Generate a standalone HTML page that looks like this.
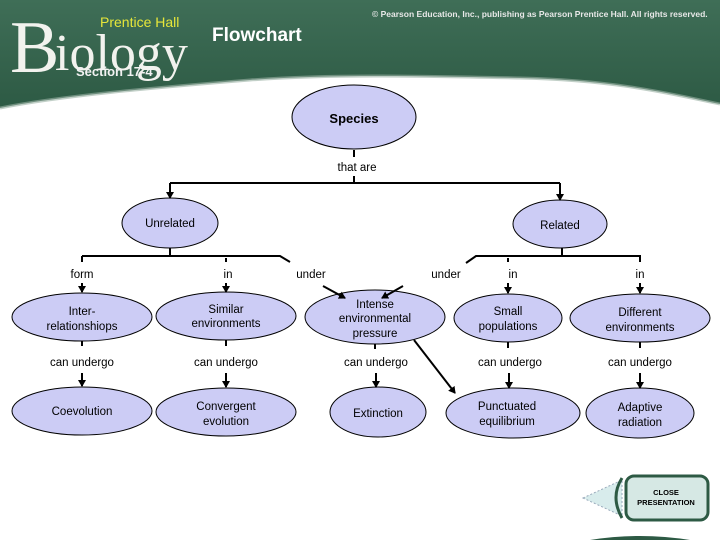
<!DOCTYPE html>
<html><head><meta charset="utf-8"><style>
html,body{margin:0;padding:0;background:#fff;}
svg{display:block;}
</style></head><body>
<svg width="720" height="540" viewBox="0 0 720 540" xmlns="http://www.w3.org/2000/svg" font-family="Liberation Sans, Arial, sans-serif">
<defs>
<linearGradient id="g" x1="0" y1="0" x2="0" y2="1">
<stop offset="0" stop-color="#3f6e57"/><stop offset="1" stop-color="#2d5a44"/>
</linearGradient>
<marker id="a" markerWidth="8" markerHeight="8" refX="6" refY="4" orient="auto" markerUnits="userSpaceOnUse">
<path d="M0,0 L7,4 L0,8 z" fill="#000"/></marker>
</defs>
<path d="M0,0 H720 V104 C680,96 620,80 520,78 C420,76 330,74 250,80 C150,88 60,96 0,108 Z" fill="url(#g)"/>
<path d="M0,108 C60,96 150,88 250,80 C330,74 420,76 520,78 C620,80 680,96 720,104" fill="none" stroke="#9ab0a4" stroke-width="3" opacity="0.6"/>
<text x="10" y="72" style="font-family:'Liberation Serif',serif;font-size:74px" fill="#f2f2ee">B</text>
<text x="55" y="70" style="font-family:'Liberation Serif',serif;font-size:52px" fill="#f2f2ee">iology</text>
<text x="100" y="27" font-size="14" fill="#e6e63a">Prentice Hall</text>
<text x="76" y="76" font-size="13" font-weight="bold" fill="#f2f2f2">Section 17-4</text>
<text x="212" y="41" font-size="19" font-weight="bold" fill="#fff">Flowchart</text>
<text x="372" y="17" font-size="8.5" font-weight="bold" fill="#e8e8e8">© Pearson Education, Inc., publishing as Pearson Prentice Hall. All rights reserved.</text>

<g stroke="#000" stroke-width="1" fill="#ccccf5">
<ellipse cx="354" cy="117" rx="62" ry="32"/>
<ellipse cx="170" cy="223" rx="48" ry="25"/>
<ellipse cx="560" cy="224" rx="47" ry="24"/>
<ellipse cx="82" cy="317" rx="70" ry="24"/>
<ellipse cx="226" cy="316" rx="70" ry="24"/>
<ellipse cx="375" cy="317" rx="70" ry="27"/>
<ellipse cx="508" cy="318" rx="54" ry="24"/>
<ellipse cx="640" cy="318" rx="70" ry="24"/>
<ellipse cx="82" cy="411" rx="70" ry="24"/>
<ellipse cx="226" cy="412" rx="70" ry="24"/>
<ellipse cx="378" cy="412" rx="48" ry="25"/>
<ellipse cx="513" cy="413" rx="67" ry="25"/>
<ellipse cx="640" cy="413" rx="54" ry="25"/>
</g>

<g stroke="#000" stroke-width="2" fill="none">
<path d="M354,150 V157"/><path d="M354,176 V183"/>
<path d="M170,183 H560"/>
<path d="M170,183 V198" marker-end="url(#a)"/>
<path d="M560,183 V200" marker-end="url(#a)"/>
<path d="M170,248 V256"/><path d="M562,248 V256"/>
<path d="M82,256 H280 L290,262"/>
<path d="M466,263 L476,256 H640 V262"/>
<path d="M82,256 V262"/><path d="M226,258 V262"/><path d="M508,258 V262"/>
<path d="M82,283 V292" marker-end="url(#a)"/>
<path d="M226,283 V292" marker-end="url(#a)"/>
<path d="M508,283 V293" marker-end="url(#a)"/>
<path d="M640,283 V293" marker-end="url(#a)"/>
<path d="M323,286 L345,298" marker-end="url(#a)"/>
<path d="M403,286 L382,298" marker-end="url(#a)"/>
<path d="M82,341 V346"/><path d="M226,340 V346"/><path d="M375,344 V349"/><path d="M508,342 V348"/><path d="M640,342 V348"/>
<path d="M82,373 V386" marker-end="url(#a)"/>
<path d="M226,373 V387" marker-end="url(#a)"/>
<path d="M376,373 V387" marker-end="url(#a)"/>
<path d="M509,373 V388" marker-end="url(#a)"/>
<path d="M640,373 V388" marker-end="url(#a)"/>
<path d="M414,340 L455,393" marker-end="url(#a)"/>
</g>

<g font-size="11.5" fill="#000" text-anchor="middle">
<text x="354" y="123" font-weight="bold" font-size="13">Species</text>
<text x="357" y="171">that are</text>
<text x="170" y="227">Unrelated</text>
<text x="560" y="229">Related</text>
<text x="82" y="278">form</text>
<text x="228" y="278">in</text>
<text x="311" y="278">under</text>
<text x="446" y="278">under</text>
<text x="513" y="278">in</text>
<text x="640" y="278">in</text>
<text x="82" y="315">Inter-</text><text x="82" y="330">relationshiops</text>
<text x="226" y="313">Similar</text><text x="226" y="327">environments</text>
<text x="375" y="308">Intense</text><text x="375" y="322">environmental</text><text x="375" y="337">pressure</text>
<text x="508" y="315">Small</text><text x="508" y="330">populations</text>
<text x="640" y="316">Different</text><text x="640" y="331">environments</text>
<text x="82" y="366">can undergo</text>
<text x="226" y="366">can undergo</text>
<text x="376" y="366">can undergo</text>
<text x="510" y="366">can undergo</text>
<text x="640" y="366">can undergo</text>
<text x="82" y="415">Coevolution</text>
<text x="226" y="410">Convergent</text><text x="226" y="425">evolution</text>
<text x="378" y="417">Extinction</text>
<text x="507" y="410">Punctuated</text><text x="507" y="425">equilibrium</text>
<text x="640" y="411">Adaptive</text><text x="640" y="426">radiation</text>
</g>

<path d="M583,498 L622,480 L622,516 Z" fill="#d8ecec" stroke="#9ab" stroke-dasharray="2,2"/>
<path d="M622,478 Q610,497 622,518" fill="none" stroke="#2d5a44" stroke-width="3"/>
<rect x="626" y="476" width="82" height="44" rx="8" fill="#d6e8e4" stroke="#2d5a44" stroke-width="3"/>
<text x="666" y="495" font-size="7.5" font-weight="bold" text-anchor="middle">CLOSE</text>
<text x="666" y="505" font-size="7.5" font-weight="bold" text-anchor="middle">PRESENTATION</text>
<path d="M590,540 Q640,532 690,540 Z" fill="#2d5a44"/>
</svg>
</body></html>
